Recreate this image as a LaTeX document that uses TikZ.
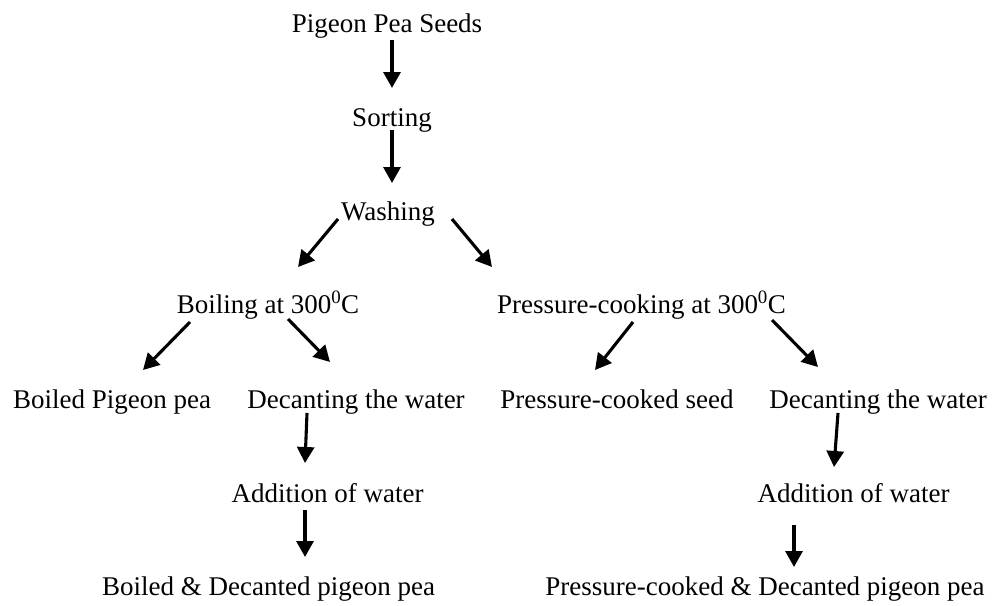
\documentclass[tikz,border=0pt]{standalone}
\usepackage{fontspec}
\setmainfont{Liberation Serif}
\usetikzlibrary{arrows.meta}
\begin{document}
\begin{tikzpicture}[x=1pt,y=-1pt,
  lbl/.style={inner sep=0pt, anchor=base, font=\fontsize{27}{30}\selectfont},
  arr/.style={line width=3.1pt, -{Triangle[length=16pt,width=17pt]}}]
\useasboundingbox (0,0) rectangle (993,605);
\node[lbl] (pig) at (387,32) {Pigeon Pea Seeds};
\node[lbl] (sort) at (392,126) {Sorting};
\node[lbl] (wash) at (388,220) {Washing};
\node[lbl] (boil) at (268,313) {Boiling at 300\textsuperscript{0}C};
\node[lbl] (press) at (641.5,313) {Pressure-cooking at 300\textsuperscript{0}C};
\node[lbl] (bpp) at (112,408) {Boiled Pigeon pea};
\node[lbl] (decL) at (356,408) {Decanting the water};
\node[lbl] (seed) at (617,408) {Pressure-cooked seed};
\node[lbl] (decR) at (878,408) {Decanting the water};
\node[lbl] (addL) at (327.5,502) {Addition of water};
\node[lbl] (addR) at (853.5,502) {Addition of water};
\node[lbl] (finL) at (268.5,595) {Boiled \& Decanted pigeon pea};
\node[lbl] (finR) at (765,595) {Pressure-cooked \& Decanted pigeon pea};

\draw[arr] ([shift={(5,8)}]pig.base) -- ([shift={(0,-38)}]sort.base);
\draw[arr] ([shift={(0,4)}]sort.base) -- ([shift={(4,-37)}]wash.base);
\draw[arr] ([shift={(-50,-1)}]wash.base) -- ([shift={(30,-46)}]boil.base);
\draw[arr] ([shift={(64,-1)}]wash.base) -- ([shift={(-149.5,-46)}]press.base);
\draw[arr] ([shift={(-78,9)}]boil.base) -- ([shift={(31,-38)}]bpp.base);
\draw[arr] ([shift={(20,6)}]boil.base) -- ([shift={(-26,-46)}]decL.base);
\draw[arr] ([shift={(-49,5)}]decL.base) -- ([shift={(-22.5,-39)}]addL.base);
\draw[arr] ([shift={(-22.5,8)}]addL.base) -- ([shift={(36.5,-38)}]finL.base);
\draw[arr] ([shift={(-8.5,9)}]press.base) -- ([shift={(-22,-38)}]seed.base);
\draw[arr] ([shift={(130.5,7)}]press.base) -- ([shift={(-60,-41)}]decR.base);
\draw[arr] ([shift={(-40,5)}]decR.base) -- ([shift={(-19.5,-35)}]addR.base);
\draw[arr] ([shift={(-59.5,23)}]addR.base) -- ([shift={(29,-28)}]finR.base);
\end{tikzpicture}
\end{document}
